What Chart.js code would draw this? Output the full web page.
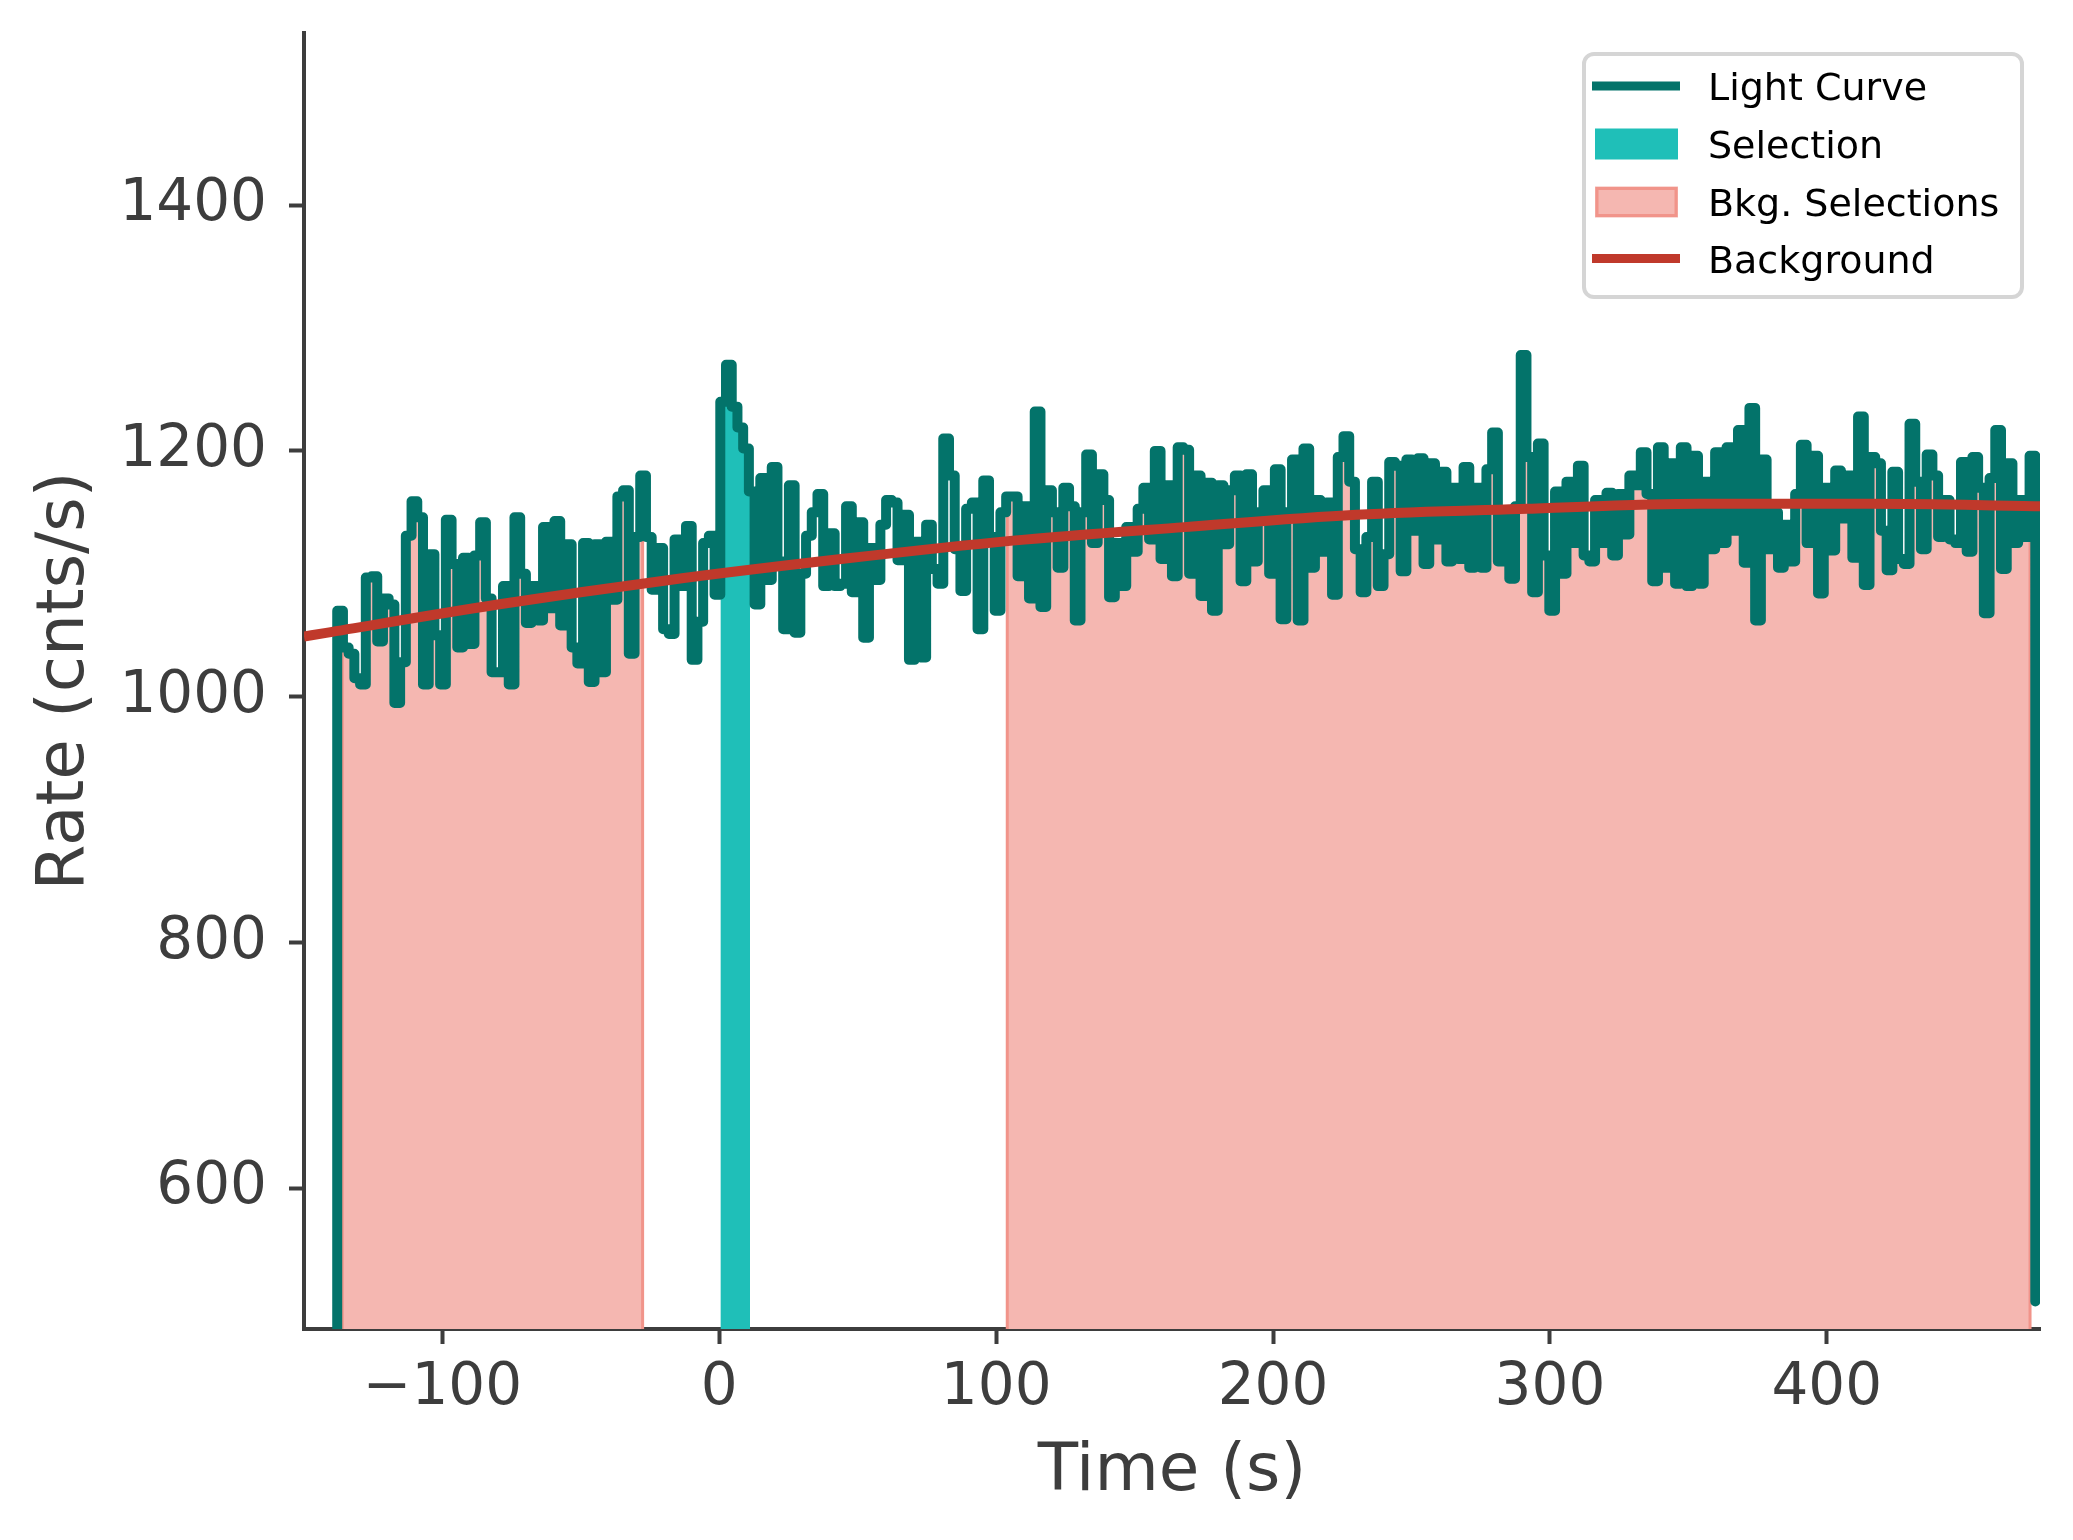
<!DOCTYPE html>
<html>
<head>
<meta charset="utf-8">
<script src="https://cdn.jsdelivr.net/npm/chart.js@4.4.1/dist/chart.umd.min.js"></script>
<style>
  html, body { margin: 0; padding: 0; background: #fff; }
  #wrap { width: 2073px; height: 1540px; }
</style>
</head>
<body>
<div id="wrap"><canvas id="lc" width="2073" height="1540"></canvas></div>
<script>
// light curve: fixed-width bins, value holds from bin start to next bin
const binStart = -140.065;
const binWidth = 2.065;
const rates = [
  450,
  1070, 1040, 1035, 1015, 1010, 1097, 1098, 1045, 1080, 1075, 995, 1028, 1131, 1159, 1146, 1010, 1116, 1050, 1010, 1144, 1108, 1040, 1113, 1043, 1115, 1142, 1080, 1020,
  1020, 1090, 1010, 1146, 1100, 1060, 1090, 1062, 1138, 1072, 1143, 1058, 1124, 1040, 1027, 1125, 1012, 1124, 1020, 1126, 1079, 1163, 1168, 1035, 1130, 1180, 1130, 1087, 1121, 1055,
  1051, 1128, 1090, 1139, 1030, 1061, 1125, 1131, 1083, 1240, 1270, 1236, 1219, 1202, 1167, 1075, 1178, 1095, 1187, 1110, 1055, 1172, 1052, 1100, 1131, 1150, 1165, 1090, 1133, 1090,
  1092, 1155, 1085, 1142, 1048, 1121, 1095, 1140, 1160, 1158, 1111, 1148, 1030, 1126, 1032, 1140, 1104, 1092, 1210, 1180, 1120, 1086, 1153, 1158, 1055, 1176, 1130, 1070, 1150, 1163,
  1163, 1098, 1155, 1080, 1232, 1073, 1168, 1150, 1105, 1170, 1155, 1062, 1150, 1197, 1125, 1181, 1160, 1081, 1125, 1090, 1138, 1118, 1153, 1170, 1128, 1200, 1112, 1172, 1098, 1203,
  1201, 1100, 1180, 1082, 1174, 1070, 1172, 1124, 1168, 1180, 1094, 1181, 1110, 1150, 1168, 1100, 1185, 1063, 1150, 1193, 1062, 1202, 1105, 1160, 1118, 1158, 1083, 1195, 1212, 1175,
  1120, 1085, 1130, 1175, 1090, 1116, 1191, 1188, 1102, 1193, 1135, 1194, 1108, 1190, 1128, 1183, 1110, 1170, 1112, 1187, 1105, 1170, 1105, 1185, 1215, 1110, 1145, 1096, 1155, 1278,
  1195, 1085, 1206, 1115, 1070, 1167, 1100, 1175, 1125, 1188, 1115, 1110, 1160, 1125, 1166, 1115, 1165, 1132, 1180, 1172, 1199, 1165, 1094, 1203, 1105, 1190, 1092, 1203, 1090, 1196,
  1092, 1175, 1120, 1199, 1125, 1203, 1135, 1217, 1109, 1235, 1062, 1193, 1120, 1150, 1105, 1140, 1110, 1165, 1205, 1125, 1196, 1084, 1170, 1119, 1184, 1145, 1180, 1113, 1228, 1091,
  1195, 1190, 1135, 1103, 1183, 1112, 1108, 1222, 1175, 1120, 1197, 1180, 1130, 1160, 1128, 1125, 1191, 1118, 1195, 1170, 1068, 1178, 1217, 1104, 1190, 1125, 1160, 1130, 1196,
  508
];

// fitted background model
const bkgTimes = [-150, -142, -80, -18, 44, 106, 168, 230, 292, 354, 416, 477];
const bkgRates = [1049, 1052, 1075, 1095, 1112, 1127, 1138, 1148, 1153, 1157, 1157, 1155];

const selection = [0.4, 11.1];
const bkgSelections = [[-136.2, -27.7], [104.0, 473.4]];

const xTicks = [-100, 0, 100, 200, 300, 400];
const yTicks = [600, 800, 1000, 1200, 1400];
const xRange = [-150, 477];
const yRange = [485.6, 1540];

const legendLabels = ['Light Curve', 'Selection', 'Bkg. Selections', 'Background'];

const TEAL = '#03736a';
const CYAN = '#1fbfb8';
const PINK = '#f5b7b1';
const PINK_EDGE = '#f1948a';
const RED = '#c0392b';
const AXIS = '#3d3d3d';
const FONT = 'DejaVu Sans';

const lcPoints = rates.map((r, i) => ({ x: binStart + i * binWidth, y: r }));

function rateAt(t) {
    let i = Math.floor((t - binStart) / binWidth);
    i = Math.max(0, Math.min(rates.length - 1, i));
    return rates[i];
}

// piece of the step curve between a and b, closed down below the axis
function stepSlice(a, b) {
    const lo = yRange[0] - 60;
    const pts = [{ x: a, y: lo }, { x: a, y: rateAt(a) }];
    lcPoints.forEach(p => {
        if (p.x > a && p.x < b) pts.push(p);
    });
    pts.push({ x: b, y: rateAt(b) }, { x: b, y: lo });
    return pts;
}

const datasets = [
    {
        label: 'Background',
        data: bkgTimes.map((t, i) => ({ x: t, y: bkgRates[i] })),
        borderColor: RED, borderWidth: 10, pointRadius: 0,
        cubicInterpolationMode: 'monotone', fill: false, order: 0, clip: 0
    },
    {
        label: 'Light Curve',
        data: lcPoints,
        borderColor: TEAL, borderWidth: 10, pointRadius: 0, stepped: 'before',
        borderJoinStyle: 'round', borderCapStyle: 'round', fill: false, order: 1, clip: 0
    },
    {
        label: 'Selection',
        data: stepSlice(selection[0], selection[1]),
        borderColor: CYAN, borderWidth: 0, backgroundColor: CYAN, pointRadius: 0,
        stepped: 'before', fill: 'start', order: 2, clip: 0
    }
];
bkgSelections.forEach(r => {
    datasets.push({
        label: 'Bkg. Selections',
        data: stepSlice(r[0], r[1]),
        borderColor: PINK_EDGE, borderWidth: 3, backgroundColor: PINK, pointRadius: 0,
        stepped: 'before', fill: 'start', order: 3, clip: 0
    });
});

const legendBox = {
    id: 'legendBox',
    afterDraw(chart) {
        const ctx = chart.ctx;
        ctx.save();
        const x0 = 1584, y0 = 54, w = 438, h = 243, rad = 10;
        ctx.beginPath();
        ctx.roundRect(x0, y0, w, h, rad);
        ctx.fillStyle = 'rgba(255,255,255,0.8)';
        ctx.fill();
        ctx.lineWidth = 4;
        ctx.strokeStyle = '#d5d5d5';
        ctx.stroke();

        const rows = [86, 144, 202, 258.5];
        // Light Curve handle
        ctx.lineWidth = 9;
        ctx.strokeStyle = TEAL;
        ctx.beginPath(); ctx.moveTo(1592, rows[0]); ctx.lineTo(1680, rows[0]); ctx.stroke();
        // Selection patch
        ctx.fillStyle = CYAN;
        ctx.fillRect(1595, rows[1] - 15.5, 83, 31);
        // Bkg patch
        ctx.fillStyle = PINK;
        ctx.fillRect(1595, rows[2] - 15.5, 83, 31);
        ctx.lineWidth = 3;
        ctx.strokeStyle = PINK_EDGE;
        ctx.strokeRect(1597, rows[2] - 13.5, 79, 27);
        // Background handle
        ctx.lineWidth = 9;
        ctx.strokeStyle = RED;
        ctx.beginPath(); ctx.moveTo(1592, rows[3]); ctx.lineTo(1680, rows[3]); ctx.stroke();

        ctx.fillStyle = '#000';
        ctx.font = '38px "' + FONT + '"';
        ctx.textBaseline = 'alphabetic';
        ctx.textAlign = 'left';
        legendLabels.forEach((lab, i) => {
            ctx.fillText(lab, 1708, rows[i] + 14);
        });
        ctx.restore();
    }
};

const fmtTick = v => (v < 0 ? '\u2212' + Math.abs(v) : String(v));

new Chart(document.getElementById('lc'), {
    type: 'line',
    data: { datasets: datasets },
    options: {
        responsive: false,
        animation: false,
        devicePixelRatio: 1,
        layout: { padding: { left: 0, right: 33, top: 33, bottom: 0 } },
        plugins: {
            legend: { display: false },
            tooltip: { enabled: false }
        },
        scales: {
            x: {
                type: 'linear',
                min: xRange[0], max: xRange[1],
                afterFit: s => { s.height = 211; s.paddingLeft = 0; s.paddingRight = 0; },
                afterBuildTicks: s => { s.ticks = xTicks.map(v => ({ value: v })); },
                grid: { display: true, drawOnChartArea: false, drawTicks: true, tickLength: 15, tickWidth: 4, tickColor: AXIS },
                border: { display: true, width: 4, color: AXIS },
                ticks: { font: { family: FONT, size: 58 }, color: AXIS, padding: 10, maxRotation: 0, autoSkip: false, callback: fmtTick },
                title: { display: true, text: 'Time (s)', color: AXIS, font: { family: FONT, size: 66 }, padding: { top: 0, bottom: 28 } }
            },
            y: {
                type: 'linear',
                min: yRange[0], max: yRange[1],
                afterFit: s => { s.width = 304; s.paddingTop = 0; s.paddingBottom = 0; },
                afterBuildTicks: s => { s.ticks = yTicks.map(v => ({ value: v })); },
                grid: { display: true, drawOnChartArea: false, drawTicks: true, tickLength: 15, tickWidth: 4, tickColor: AXIS },
                border: { display: true, width: 4, color: AXIS },
                ticks: { font: { family: FONT, size: 58 }, color: AXIS, padding: 22, autoSkip: false, callback: fmtTick },
                title: { display: true, text: 'Rate (cnts/s)', color: AXIS, font: { family: FONT, size: 66 }, padding: { top: 26, bottom: 0 } }
            }
        }
    },
    plugins: [legendBox]
});
</script>
</body>
</html>
